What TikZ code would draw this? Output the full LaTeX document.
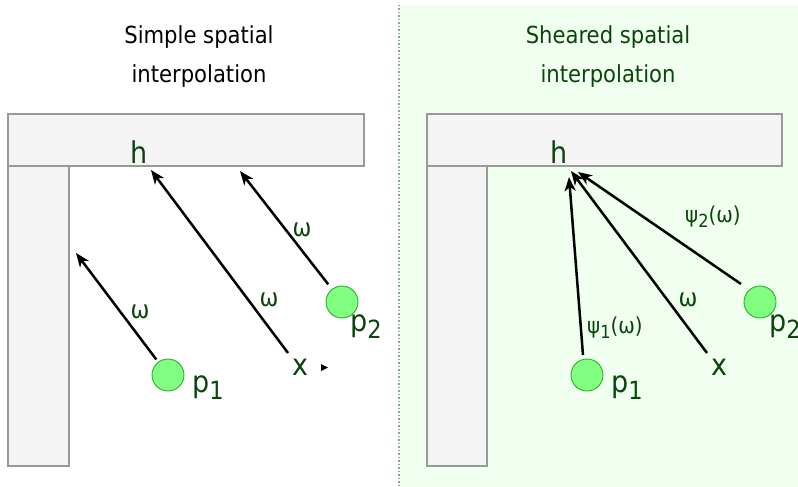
\documentclass[tikz,border=0pt]{standalone}
\usepackage{fontspec}
\setmainfont{DejaVu Sans Condensed}
\usetikzlibrary{arrows.meta}
\definecolor{txtgreen}{HTML}{0A460A}
\definecolor{bggreen}{HTML}{F0FFF0}
\definecolor{barfill}{HTML}{F4F4F4}
\definecolor{barline}{HTML}{999999}
\definecolor{dotline}{HTML}{8FA88F}
\definecolor{ptfill}{HTML}{80FF80}
\definecolor{ptline}{HTML}{2EAA2E}
\newcommand{\ssub}[1]{\raisebox{-7pt}{\fontsize{25}{25}\selectfont #1}}
\newcommand{\gsub}[1]{\raisebox{-5pt}{\fontsize{18}{18}\selectfont #1}}
\begin{document}
\begin{tikzpicture}[x=1pt,y=-1pt,
  bar/.style={fill=barfill,draw=barline,line width=1.2pt},
  pt/.style={circle,fill=ptfill,draw=ptline,line width=0.9pt,minimum size=32pt,inner sep=0pt},
  lbl/.style={text=txtgreen,inner sep=0pt,font=\fontsize{30}{30}\selectfont},
  sm/.style={text=txtgreen,inner sep=0pt,font=\fontsize{25}{25}\selectfont},
  psi/.style={text=txtgreen,inner sep=0pt,font=\fontsize{22}{22}\selectfont},
  ttl/.style={inner sep=0pt,font=\fontsize{23.5}{23.5}\selectfont},
  ray/.style={line width=2.5pt,-{Stealth[length=14pt,width=11pt,inset=4pt]}}]
\useasboundingbox (0,0) rectangle (798,487);
% right background
\fill[bggreen] (399,5) rectangle (798,487);
\draw[dotline,line width=1.5pt,dash pattern=on 1.5pt off 2pt] (399,5) -- (399,487);
% titles
\node[ttl,anchor=base] (t1a) at (199,44) {Simple spatial};
\node[ttl,anchor=base] (t1b) at (199,82) {interpolation};
\node[ttl,anchor=base,text=txtgreen] (t2a) at (608,44) {Sheared spatial};
\node[ttl,anchor=base,text=txtgreen] (t2b) at (608,82) {interpolation};
% left walls
\draw[bar] (8,114) rectangle (364,166);
\draw[bar] (8,166) rectangle (69,466);
% right walls
\draw[bar] (427,114) rectangle (782,166);
\draw[bar] (427,166) rectangle (487,466);
% left panel
\node[lbl,anchor=base] (hL) at (139,163) {h};
\node[pt] (p1L) at (168,375) {};
\node[pt] (p2L) at (342,302) {};
\node[lbl,anchor=base west] (p1Llab) at (192,392) {p\ssub{1}};
\node[lbl,anchor=base west] (p2Llab) at (350,331) {p\ssub{2}};
\node[lbl,anchor=base] (xL) at (300,375) {x};
\coordinate (xsL) at (288,353);
\coordinate (tipA) at (76,253);
\coordinate (tipH) at (151,170);
\coordinate (tipB) at (240,171);
\draw[ray,shorten <=3pt] (p1L) -- (tipA);
\draw[ray] (xsL) -- (tipH);
\draw[ray,shorten <=6pt] (p2L) -- (tipB);
\node[sm] (wA) at (140,312) {ω};
\node[sm] (wH) at (269,300) {ω};
\node[sm] (wB) at (302,230) {ω};
\fill (321,364) -- (328,367.5) -- (321,371) -- cycle;
% right panel
\node[lbl,anchor=base] (hR) at (559,163) {h};
\node[pt] (p1R) at (587,375) {};
\node[pt] (p2R) at (760,302) {};
\node[lbl,anchor=base west] (p1Rlab) at (611,392) {p\ssub{1}};
\node[lbl,anchor=base west] (p2Rlab) at (769,331) {p\ssub{2}};
\node[lbl,anchor=base] (xR) at (719,375) {x};
\coordinate (xsR) at (707,353);
\coordinate (tipR1) at (569,177);
\coordinate (tipRx) at (571,171);
\coordinate (tipR2) at (578,172);
\coordinate (s1R) at (583,355);
\coordinate (s2R) at (741,284);
\draw[ray] (s1R) -- (tipR1);
\draw[ray] (xsR) -- (tipRx);
\draw[ray] (s2R) -- (tipR2);
\node[sm] (wR) at (688,300) {ω};
\node[psi,anchor=base west] (psi1) at (587,333) {ψ\gsub{1}(ω)};
\node[psi,anchor=base west] (psi2) at (685,222) {ψ\gsub{2}(ω)};
\end{tikzpicture}
\end{document}
